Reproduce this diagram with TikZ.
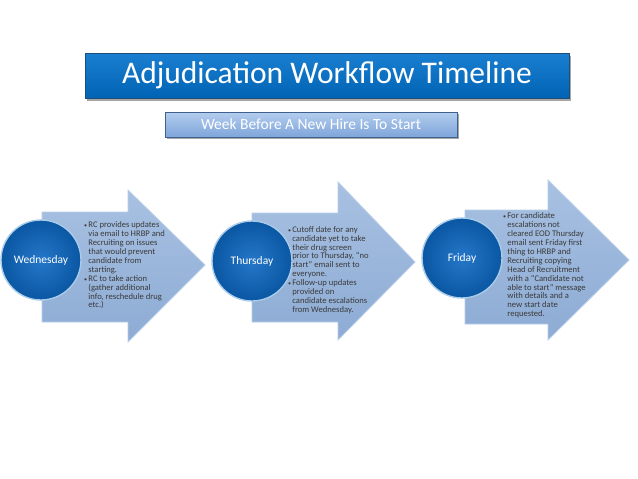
\documentclass[tikz,border=0pt]{standalone}
\usepackage{fontspec}
\setmainfont{Carlito}
\definecolor{titletop}{HTML}{1B7FD1}
\definecolor{titlebot}{HTML}{0063B4}
\definecolor{titleedge}{HTML}{1F4E79}
\definecolor{subtop}{HTML}{B3CDEE}
\definecolor{subbot}{HTML}{7FA5DA}
\definecolor{subedge}{HTML}{3F5F8F}
\definecolor{arrowtop}{HTML}{A8C1E2}
\definecolor{arrowbot}{HTML}{8DABD4}
\definecolor{arrowedge}{HTML}{B9CEE9}
\definecolor{circin}{HTML}{2577C8}
\definecolor{circout}{HTML}{0A57A3}
\definecolor{circedge}{HTML}{A9CBEA}
\definecolor{textgray}{HTML}{3A3A3A}
\newcommand\bmark{\makebox[4.2pt][l]{\fontsize{6}{6}\selectfont\textbullet}}
\newcommand\cind{\hspace*{4.2pt}}
\begin{document}
\begin{tikzpicture}[x=1pt,y=-1pt,
  titlebar/.style={draw=titleedge, line width=0.6pt, top color=titletop, bottom color=titlebot,
    minimum width=484pt, minimum height=45pt, inner sep=0pt, text=white,
    font=\fontsize{31.5}{33}\selectfont},
  subbar/.style={draw=subedge, line width=0.8pt, top color=subtop, bottom color=subbot,
    minimum width=292pt, minimum height=25pt, inner sep=0pt, text=white,
    font=\fontsize{15.5}{17}\selectfont},
  arrowshape/.style={top color=arrowtop, bottom color=arrowbot, draw=arrowedge, line width=0.8pt},
  daycircle/.style={circle, minimum size=80pt, inner sep=0pt, inner color=circin, outer color=circout,
    draw=circedge, line width=1.4pt, text=white, font=\fontsize{11.5}{13}\selectfont},
  bullettext/.style={anchor=west, align=left, inner sep=0pt, text=textgray,
    font=\fontsize{8.6}{8.9}\selectfont},
  shadowbox/.style={fill=black!35}
]
\useasboundingbox (0,0) rectangle (638,479);
\fill[white] (0,0) rectangle (638,479);

% title
\fill[shadowbox] (87,55.5) rectangle (571,100.5);
\node[titlebar] (title) at (327,75.5) {Adjudication Workflow Timeline};
\fill[shadowbox] (167,114) rectangle (459,139);
\node[subbar] (sub) at (311,124.5) {Week Before A New Hire Is To Start};

% arrows
\path[arrowshape] (42,212) -- (128,212) -- (128,190) -- (205,265) -- (128,342) -- (128,322) -- (42,322) -- cycle;
\path[arrowshape] (252,213) -- (338,213) -- (338,182) -- (415,262) -- (338,340) -- (338,322) -- (252,322) -- cycle;
\path[arrowshape] (465,210) -- (548,210) -- (548,180) -- (629,260) -- (548,340) -- (548,324) -- (465,324) -- cycle;

% circles
\node[daycircle] (wed) at (41,260) {Wednesday};
\node[daycircle] (thu) at (252,261) {Thursday};
\node[daycircle] (fri) at (462,258) {Friday};

% texts
\node[bullettext] (wedtext) at (84,265.5) {\bmark RC provides updates\\
\cind via email to HRBP and\\
\cind Recruiting on issues\\
\cind that would prevent\\
\cind candidate from\\
\cind starting.\\
\bmark RC to take action\\
\cind (gather additional\\
\cind info, reschedule drug\\
\cind etc.)};

\node[bullettext] (thutext) at (288,270) {\bmark Cutoff date for any\\
\cind candidate yet to take\\
\cind their drug screen\\
\cind prior to Thursday, “no\\
\cind start” email sent to\\
\cind everyone.\\
\bmark Follow-up updates\\
\cind provided on\\
\cind candidate escalations\\
\cind from Wednesday.};

\node[bullettext] (fritext) at (503,265.5) {\bmark For candidate\\
\cind escalations not\\
\cind cleared EOD Thursday\\
\cind email sent Friday first\\
\cind thing to HRBP and\\
\cind Recruiting copying\\
\cind Head of Recruitment\\
\cind with a “Candidate not\\
\cind able to start” message\\
\cind with details and a\\
\cind new start date\\
\cind requested.};
\end{tikzpicture}
\end{document}
